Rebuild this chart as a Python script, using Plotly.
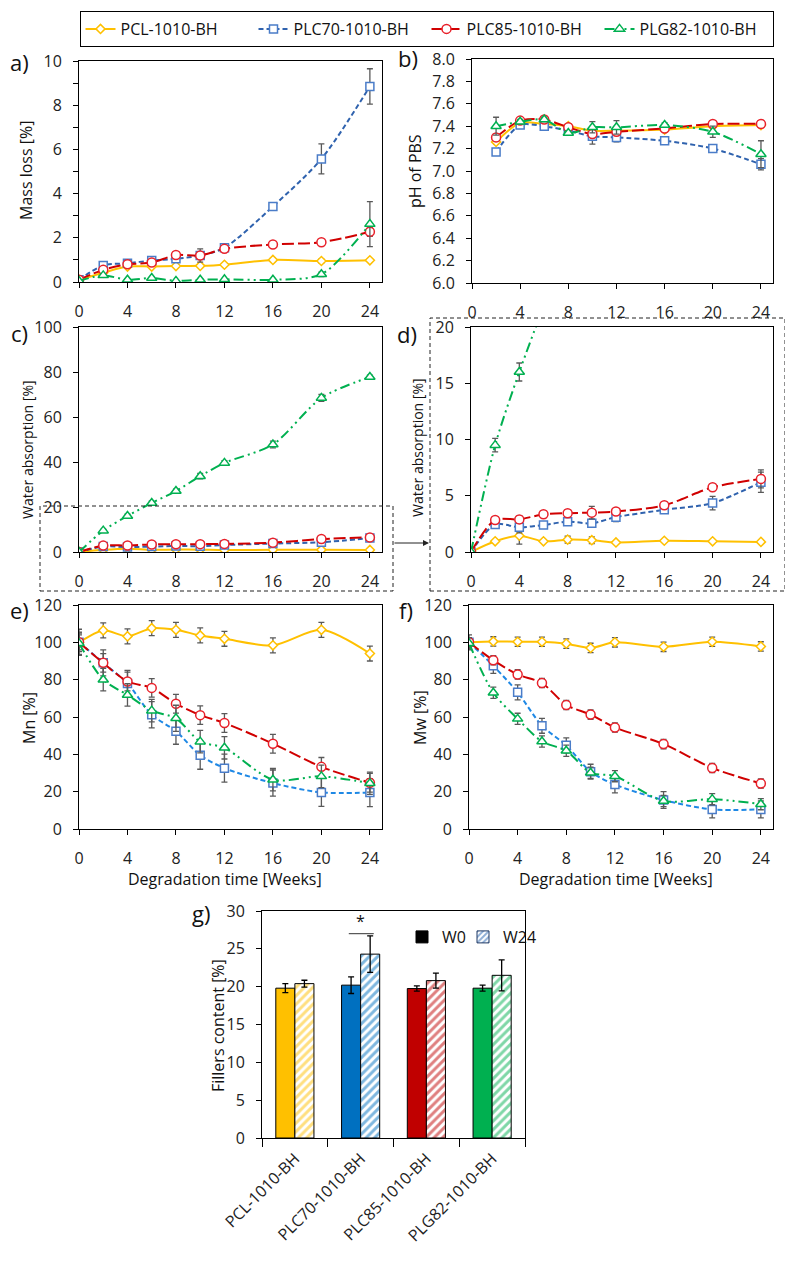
import plotly.graph_objects as go

W, H = 793, 1263
OFF = 8  # page body margin: figure is drawn 8px right/down of the window edge
FONT = "Open Sans"

# ---------------- data ----------------
weeks = [0, 2, 4, 6, 8, 10, 12, 16, 20, 24]
weeks_ph = [2, 4, 6, 8, 10, 12, 16, 20, 24]
names = ["PCL-1010-BH", "PLC70-1010-BH", "PLC85-1010-BH", "PLG82-1010-BH"]

# a) mass loss [%]
ml_pcl = [0.10, 0.42, 0.70, 0.70, 0.72, 0.73, 0.78, 1.00, 0.95, 0.98]
ml_plc70 = [0.10, 0.75, 0.85, 0.97, 1.05, 1.20, 1.55, 3.42, 5.57, 8.85]
ml_plc85 = [0.10, 0.55, 0.80, 0.88, 1.22, 1.20, 1.50, 1.70, 1.80, 2.27]
ml_plg82 = [0.05, 0.30, 0.10, 0.18, 0.05, 0.10, 0.12, 0.10, 0.35, 2.62]
ml_pcl_err = [0.03, 0.05, 0.05, 0.05, 0.05, 0.05, 0.05, 0.08, 0.08, 0.05]
ml_plc70_err = [0.03, 0.08, 0.08, 0.08, 0.10, 0.30, 0.08, 0.12, 0.68, 0.80]
ml_plc85_err = [0.03, 0.08, 0.08, 0.08, 0.08, 0.15, 0.08, 0.08, 0.10, 0.20]
ml_plg82_err = [0.03, 0.05, 0.03, 0.03, 0.03, 0.03, 0.03, 0.03, 0.10, 1.02]

# b) pH of PBS
ph_pcl = [7.26, 7.43, 7.42, 7.40, 7.36, 7.36, 7.37, 7.40, 7.41]
ph_plc70 = [7.17, 7.41, 7.40, 7.36, 7.31, 7.30, 7.27, 7.20, 7.06]
ph_plc85 = [7.30, 7.45, 7.46, 7.39, 7.33, 7.35, 7.38, 7.42, 7.42]
ph_plg82 = [7.40, 7.44, 7.46, 7.34, 7.39, 7.39, 7.41, 7.35, 7.15]
ph_pcl_err = [0.02, 0.02, 0.02, 0.02, 0.02, 0.02, 0.02, 0.02, 0.02]
ph_plc70_err = [0.03, 0.02, 0.02, 0.02, 0.07, 0.04, 0.02, 0.02, 0.05]
ph_plc85_err = [0.03, 0.02, 0.02, 0.02, 0.03, 0.03, 0.02, 0.02, 0.02]
ph_plg82_err = [0.08, 0.02, 0.02, 0.02, 0.05, 0.06, 0.02, 0.05, 0.12]

# c/d) water absorption [%]
wa_pcl = [0, 0.95, 1.45, 0.95, 1.10, 1.05, 0.85, 1.00, 0.95, 0.90]
wa_plc70 = [0, 2.45, 2.20, 2.40, 2.70, 2.55, 3.10, 3.75, 4.35, 6.20]
wa_plc85 = [0, 2.85, 2.90, 3.35, 3.45, 3.50, 3.60, 4.15, 5.75, 6.50]
wa_plg82 = [0, 9.5, 16.0, 21.8, 27.1, 33.7, 39.6, 47.8, 68.5, 77.8]
wa_pcl_err = [0, 0.1, 0.75, 0.1, 0.3, 0.3, 0.1, 0.1, 0.1, 0.1]
wa_plc70_err = [0, 0.2, 0.5, 0.2, 0.2, 0.2, 0.4, 0.3, 0.6, 0.9]
wa_plc85_err = [0, 0.2, 0.3, 0.3, 0.2, 0.55, 0.2, 0.3, 0.3, 0.8]
wa_plg82_err = [0, 0.6, 0.8, 0.8, 0.8, 1.2, 1.0, 1.5, 1.5, 0.8]

# e) Mn [%]
mn_pcl = [100, 106.4, 103.2, 107.6, 106.7, 103.7, 101.9, 98.4, 106.7, 94.0]
mn_plc70 = [100, 89.0, 78.0, 61.2, 52.4, 39.5, 32.6, 24.6, 19.6, 19.5]
mn_plc85 = [100, 89.0, 79.0, 75.6, 67.1, 61.0, 56.8, 45.7, 33.3, 24.8]
mn_plg82 = [99.5, 80.0, 71.8, 63.4, 59.3, 46.8, 43.5, 26.4, 28.2, 24.5]
mn_pcl_err = [4, 4, 4, 4, 4, 4, 4, 4, 4, 4]
mn_plc70_err = [7, 7, 7, 7, 7, 7.5, 7.5, 7, 7.5, 7.5]
mn_plc85_err = [5, 5, 5, 5, 5, 5, 5, 5, 5, 5]
mn_plg82_err = [6, 6, 6, 6, 7, 6, 6, 6, 6, 6]

# f) Mw [%]
mw_pcl = [100, 100.5, 100.3, 100.3, 99.3, 97.0, 100.0, 97.6, 100.3, 97.8]
mw_plc70 = [100, 87.4, 73.2, 55.3, 44.8, 30.7, 23.8, 15.5, 10.5, 10.5]
mw_plc85 = [100, 90.4, 82.8, 78.2, 66.4, 61.3, 54.4, 45.5, 32.7, 24.4]
mw_plg82 = [99.5, 73.0, 59.0, 46.9, 41.9, 30.1, 28.3, 15.0, 16.0, 13.3]
mw_pcl_err = [2.5, 2.5, 2.5, 2.5, 2.5, 2.5, 2.5, 2.5, 2.5, 2.5]
mw_plc70_err = [4, 4, 4, 4, 4, 4, 4.5, 4.5, 4.5, 4.5]
mw_plc85_err = [2.5, 2.5, 2.5, 2.5, 2.5, 2.5, 2.5, 2.5, 2.5, 2.5]
mw_plg82_err = [3, 3, 3, 3, 3, 3, 3, 3, 3, 3]

# g) fillers content [%]
fill_w0 = [19.8, 20.2, 19.75, 19.8]
fill_w0_err = [0.6, 1.1, 0.35, 0.4]
fill_w24 = [20.4, 24.3, 20.8, 21.5]
fill_w24_err = [0.45, 2.4, 1.0, 2.05]
bar_colors = ["#FFC000", "#0070C0", "#C00000", "#00B050"]

# ---------------- styles ----------------
styles = [
    dict(color="#FFC000", edge="#FFC000", dash="solid", symbol="diamond", size=7),
    dict(color="#2F62AE", edge="#4A7CC8", dash="5px,3px", symbol="square", size=8),
    dict(color="#D00000", edge="#E8202A", dash="12px,4px", symbol="circle", size=9),
    dict(color="#00B050", edge="#00B050", dash="10px,4px,2px,4px,2px,4px", symbol="triangle-up", size=9),
]


def px(x):
    return (x - OFF) / W


def py(y):
    return 1 - (y - OFF) / H


def xd(a, b):
    return [px(a), px(b)]


def yd(top, bottom):
    return [py(bottom), py(top)]


fig = go.Figure()


def add_panel(idx, x, ys, errs, legend=False, blue=None):
    for k in range(4):
        st = styles[k]
        col = st["color"]
        if k == 1 and blue:
            col = blue
        fig.add_trace(go.Scatter(
            x=x, y=ys[k], name=names[k], legendgroup=names[k], showlegend=legend,
            mode="lines+markers",
            line=dict(color=col, width=2, dash=st["dash"], shape="spline", smoothing=0.8),
            marker=dict(symbol=st["symbol"], size=st["size"], color="white",
                        line=dict(color=st["edge"], width=1.5)),
            error_y=dict(type="data", array=errs[k], color="#595959", thickness=1.3, width=3),
            xaxis="x" + ("" if idx == 1 else str(idx)),
            yaxis="y" + ("" if idx == 1 else str(idx)),
        ))


add_panel(1, weeks, [ml_pcl, ml_plc70, ml_plc85, ml_plg82],
          [ml_pcl_err, ml_plc70_err, ml_plc85_err, ml_plg82_err], legend=True)
add_panel(2, weeks_ph, [ph_pcl, ph_plc70, ph_plc85, ph_plg82],
          [ph_pcl_err, ph_plc70_err, ph_plc85_err, ph_plg82_err])
add_panel(3, weeks, [wa_pcl, wa_plc70, wa_plc85, wa_plg82],
          [wa_pcl_err, wa_plc70_err, wa_plc85_err, wa_plg82_err])
add_panel(4, weeks, [wa_pcl, wa_plc70, wa_plc85, wa_plg82],
          [wa_pcl_err, wa_plc70_err, wa_plc85_err, wa_plg82_err])
add_panel(5, weeks, [mn_pcl, mn_plc70, mn_plc85, mn_plg82],
          [mn_pcl_err, mn_plc70_err, mn_plc85_err, mn_plg82_err], blue="#1E88E5")
add_panel(6, weeks, [mw_pcl, mw_plc70, mw_plc85, mw_plg82],
          [mw_pcl_err, mw_plc70_err, mw_plc85_err, mw_plg82_err], blue="#1E88E5")

# bars: W0 (solid) and W24 (hatched), grouped by offsetgroup
fig.add_trace(go.Bar(
    x=names, y=fill_w0, name="W0", showlegend=False, offsetgroup="w0",
    marker=dict(color=bar_colors, line=dict(color="black", width=1)),
    error_y=dict(type="data", array=fill_w0_err, color="black", thickness=1.3, width=3),
    xaxis="x7", yaxis="y7",
))
for k in range(4):
    fig.add_trace(go.Bar(
        x=[names[k]], y=[fill_w24[k]], name="W24", showlegend=False, offsetgroup="w24",
        marker=dict(color="white", line=dict(color="black", width=1),
                    pattern=dict(shape="/", fgcolor=bar_colors[k], bgcolor="white",
                                 size=6, solidity=0.5, fillmode="overlay")),
        error_y=dict(type="data", array=[fill_w24_err[k]], color="black", thickness=1.3, width=3),
        xaxis="x7", yaxis="y7",
    ))
# legend-only entries for the bar chart (on a tiny hidden helper axis in a blank corner)
fig.add_trace(go.Bar(x=["W0"], y=[0], name="W0", legend="legend2",
                     marker=dict(color="black", line=dict(color="black", width=1)),
                     xaxis="x8", yaxis="y8"))
fig.add_trace(go.Bar(x=["W24"], y=[0], name="W24", legend="legend3",
                     marker=dict(color="white", line=dict(color="#1F3864", width=1),
                                 pattern=dict(shape="/", fgcolor="#1F5FAF", bgcolor="white",
                                              size=5, solidity=0.5, fillmode="overlay")),
                     xaxis="x8", yaxis="y8"))

tickfont = dict(family=FONT, size=16, color="#222222")
base = dict(showline=True, linecolor="black", linewidth=1, mirror=True,
            ticks="outside", ticklen=5, tickcolor="black", showgrid=False,
            zeroline=False, tickfont=tickfont, fixedrange=True, automargin=False)

xweeks = dict(base, range=[0, 25], tickvals=[0, 4, 8, 12, 16, 20, 24], ticklabelstandoff=10)

panels = {
    1: dict(x=(79, 382), y=(61, 282)),
    2: dict(x=(472, 773), y=(59, 283)),
    3: dict(x=(79, 382), y=(327, 552)),
    4: dict(x=(471, 773), y=(327, 552)),
    5: dict(x=(79, 382), y=(605, 829)),
    6: dict(x=(469, 773), y=(605, 829)),
}
yspecs = {
    1: dict(range=[0, 10], dtick=2, minor=dict(dtick=1, ticks="outside", ticklen=5, tickcolor="black")),
    2: dict(range=[6, 8], dtick=0.2, tickformat=".1f"),
    3: dict(range=[0, 100], dtick=20),
    4: dict(range=[0, 20], dtick=5),
    5: dict(range=[0, 120], dtick=20),
    6: dict(range=[0, 120], dtick=20),
}
lay = {}
for i, p in panels.items():
    s = "" if i == 1 else str(i)
    lay["xaxis" + s] = dict(xweeks, domain=xd(*p["x"]), anchor="y" + s)
    lay["yaxis" + s] = dict(base, domain=yd(*p["y"]), anchor="x" + s,
                            ticklabelstandoff=8, **yspecs[i])

lay["xaxis7"] = dict(base, domain=xd(262, 525), anchor="y7", type="category",
                     tickson="boundaries", ticklen=8, tickangle=-45, ticklabelstandoff=4)
lay["yaxis7"] = dict(base, domain=yd(911, 1138), anchor="x7", range=[0, 30], dtick=5,
                     ticklabelstandoff=8)
lay["xaxis8"] = dict(visible=False, domain=[0.99, 1.0], anchor="y8", type="category")
lay["yaxis8"] = dict(visible=False, domain=[0.0, 0.004], anchor="x8", range=[5, 6])

ann = []


def label(txt, x, y, size=22, angle=0):
    ann.append(dict(text=txt, x=px(x), y=py(y), xref="paper", yref="paper",
                    xanchor="center", yanchor="middle",
                    showarrow=False, textangle=angle,
                    font=dict(family=FONT, size=size, color="#111111")))


for t, x, y in [("a)", 19, 62), ("b)", 408, 58), ("c)", 19, 333), ("d)", 407, 334),
                ("e)", 19, 610), ("f)", 406, 610), ("g)", 201, 913)]:
    label(t, x, y)

label("Mass loss [%]", 26, 171, size=16, angle=-90)
label("pH of PBS", 415, 171, size=16, angle=-90)
label("Water absorption [%]", 27, 450, size=14, angle=-90)
label("Water absorption [%]", 417, 448, size=14, angle=-90)
label("Mn [%]", 29, 718, size=16, angle=-90)
label("Mw [%]", 420, 718, size=16, angle=-90)
label("Fillers content [%]", 218, 1025, size=16, angle=-90)
label("Degradation time [Weeks]", 225, 879, size=16)
label("Degradation time [Weeks]", 616, 879, size=16)

# significance star
ann.append(dict(text="*", x=1.0, y=27.0, xref="x7", yref="y7", showarrow=False,
                yanchor="bottom", font=dict(family=FONT, size=16, color="#111111")))
# arrow from zoom box in c) to d)
ann.append(dict(x=px(429), y=py(543), ax=-36, ay=0,
                xref="paper", yref="paper", axref="pixel", ayref="pixel",
                text="", showarrow=True, arrowhead=2, arrowsize=1.2, arrowwidth=1,
                arrowcolor="#222222"))

shapes = [
    dict(type="rect", xref="paper", yref="paper", x0=px(40), x1=px(393),
         y0=py(591), y1=py(506), line=dict(color="#222222", width=1, dash="4px,3px")),
    dict(type="rect", xref="paper", yref="paper", x0=px(430), x1=px(785),
         y0=py(591), y1=py(318), line=dict(color="#222222", width=1, dash="4px,3px")),
    dict(type="line", xref="x7", yref="y7", x0=0.82, x1=1.2, y0=27.0, y1=27.0,
         line=dict(color="#333333", width=1)),
]

small_legend = dict(orientation="h", xanchor="left", yanchor="middle",
                    bgcolor="rgba(0,0,0,0)", itemwidth=30,
                    font=dict(family=FONT, size=16, color="#111111"))

fig.update_layout(
    width=W, height=H, margin=dict(l=0, r=0, t=0, b=0, pad=0, autoexpand=False),
    paper_bgcolor="white", plot_bgcolor="white",
    font=dict(family=FONT, size=16, color="#111111"),
    barmode="group", bargap=0.42, bargroupgap=0,
    showlegend=True,
    legend=dict(orientation="h", x=px((80 + 773) / 2), y=py(11), xanchor="center",
                yanchor="top", bordercolor="black", borderwidth=1, bgcolor="white",
                font=dict(family=FONT, size=16, color="#111111"), itemwidth=30,
                entrywidth=128, traceorder="normal"),
    legend2=dict(small_legend, x=px(402), y=py(937)),
    legend3=dict(small_legend, x=px(463), y=py(937)),
    annotations=ann, shapes=shapes,
    **lay,
)

fig.write_html("out.html")
